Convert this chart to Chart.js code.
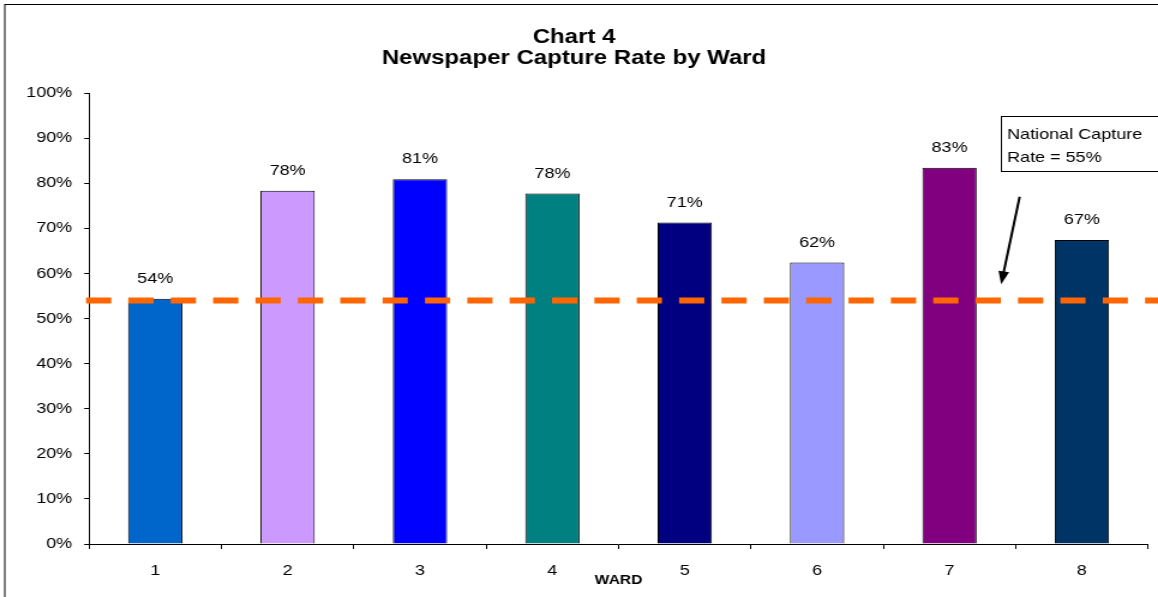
<!DOCTYPE html>
<html>
<head>
<meta charset="utf-8">
<script src="https://cdn.jsdelivr.net/npm/chart.js@4.4.1/dist/chart.umd.min.js"></script>
<style>
  html, body { margin: 0; padding: 0; background: #fff; overflow: hidden; }
  #chart { display: block; }
</style>
</head>
<body>
<!-- the original picture is stretched sideways, so the canvas is drawn narrower and widened with css -->
<canvas id="chart" width="965" height="597" style="width:1158px;height:597px"></canvas>
<script>
// Data
const wards = ["1", "2", "3", "4", "5", "6", "7", "8"];
const captureRates = [54.4, 78.3, 80.9, 77.7, 71.3, 62.4, 83.4, 67.4];
const barColors = ["#0066CC", "#CC99FF", "#0000FF", "#008080", "#000080", "#9999FF", "#800080", "#003366"];
const nationalLine = 54;
const noteLines = ["National Capture", "Rate = 55%"];

// where the note box and its arrow sit, in category index / percent units
const note = { left: 6.39, top: 94.8, bottom: 82.6, arrowFrom: [6.53, 77], arrowTo: [6.39, 57.6] };

const fontFamily = "Arial, 'Liberation Sans', sans-serif";

// white background and the outer frame
const framePlugin = {
  id: "frame",
  beforeDraw(chart) {
    const ctx = chart.ctx;
    ctx.save();
    ctx.fillStyle = "#fff";
    ctx.fillRect(0, 0, chart.width, chart.height);
    ctx.strokeStyle = "#000";
    ctx.lineWidth = 1;
    ctx.strokeRect(4, 4.5, chart.width + 10, chart.height + 10);
    ctx.restore();
  }
};

// dashed national line, value labels, note box + arrow
const extrasPlugin = {
  id: "extras",
  afterDatasetsDraw(chart) {
    const { ctx, chartArea } = chart;
    const xs = chart.scales.x;
    const ys = chart.scales.y;

    // national rate line
    const ly = ys.getPixelForValue(nationalLine);
    ctx.save();
    ctx.strokeStyle = "#FF6600";
    ctx.lineWidth = 6;
    ctx.setLineDash([21, 14.3]);
    ctx.beginPath();
    ctx.moveTo(chartArea.left - 2.5, ly);
    ctx.lineTo(chart.width, ly);
    ctx.stroke();
    ctx.restore();

    // value labels above the bars
    ctx.save();
    ctx.fillStyle = "#000";
    ctx.font = "15px " + fontFamily;
    ctx.textAlign = "center";
    ctx.textBaseline = "middle";
    chart.getDatasetMeta(0).data.forEach((bar, i) => {
      ctx.fillText(Math.round(captureRates[i]) + "%", bar.x, bar.y - 20);
    });
    ctx.restore();

    // note box
    const catW = xs.getPixelForValue(1) - xs.getPixelForValue(0);
    const px = (idx) => xs.getPixelForValue(Math.floor(idx)) + (idx - Math.floor(idx)) * catW;
    const bl = px(note.left);
    const bt = ys.getPixelForValue(note.top);
    const bb = ys.getPixelForValue(note.bottom);
    ctx.save();
    ctx.fillStyle = "#fff";
    ctx.fillRect(bl, bt, chart.width - bl + 5, bb - bt);
    ctx.strokeStyle = "#000";
    ctx.lineWidth = 1;
    ctx.strokeRect(Math.round(bl) + 0.5, Math.round(bt) + 0.5, chart.width - bl + 5, bb - bt);
    ctx.fillStyle = "#000";
    ctx.font = "15px " + fontFamily;
    ctx.textAlign = "left";
    ctx.textBaseline = "middle";
    ctx.fillText(noteLines[0], bl + 5, bt + 18);
    ctx.fillText(noteLines[1], bl + 5, bt + 41);

    // arrow
    const x1 = px(note.arrowFrom[0]), y1 = ys.getPixelForValue(note.arrowFrom[1]);
    const x2 = px(note.arrowTo[0]), y2 = ys.getPixelForValue(note.arrowTo[1]);
    const ang = Math.atan2(y2 - y1, x2 - x1);
    const headLen = 13, headW = 4.5;
    ctx.lineWidth = 2;
    ctx.beginPath();
    ctx.moveTo(x1, y1);
    ctx.lineTo(x2 - Math.cos(ang) * headLen * 0.6, y2 - Math.sin(ang) * headLen * 0.6);
    ctx.stroke();
    ctx.beginPath();
    ctx.moveTo(x2, y2);
    ctx.lineTo(x2 - Math.cos(ang) * headLen - Math.sin(ang) * headW, y2 - Math.sin(ang) * headLen + Math.cos(ang) * headW);
    ctx.lineTo(x2 - Math.cos(ang) * headLen + Math.sin(ang) * headW, y2 - Math.sin(ang) * headLen - Math.cos(ang) * headW);
    ctx.closePath();
    ctx.fill();
    ctx.restore();
  }
};

const myChart = new Chart(document.getElementById("chart"), {
  type: "bar",
  data: {
    labels: wards,
    datasets: [
      {
        label: "Capture rate",
        data: captureRates,
        backgroundColor: barColors,
        borderColor: "#000",
        borderWidth: 1,
        barPercentage: 0.41,
        categoryPercentage: 1
      }
    ]
  },
  options: {
    responsive: false,
    animation: false,
    devicePixelRatio: 1,
    layout: { padding: { left: 0, right: 8.3, top: 0, bottom: 0 } },
    plugins: {
      legend: { display: false },
      tooltip: { enabled: false },
      title: {
        display: true,
        text: ["Chart 4", "Newspaper Capture Rate by Ward"],
        color: "#000",
        font: { family: fontFamily, size: 20, weight: "bold", lineHeight: 1.05 },
        padding: { top: 26.5, bottom: 24.5 }
      }
    },
    scales: {
      x: {
        grid: { display: true, drawOnChartArea: false, drawTicks: true, tickLength: 5, color: "#000", offset: true },
        border: { display: true, color: "#000", width: 1 },
        ticks: { color: "#000", padding: 13, font: { family: fontFamily, size: 15 } },
        title: {
          display: true,
          text: "WARD",
          color: "#000",
          font: { family: fontFamily, size: 13, weight: "bold" },
          padding: { top: 0, bottom: 9 }
        },
        afterFit(scale) {
          scale.height = 53;
        }
      },
      y: {
        min: 0,
        max: 100,
        grid: { display: true, drawOnChartArea: false, drawTicks: true, tickLength: 4, color: "#000" },
        border: { display: true, color: "#000", width: 1 },
        ticks: {
          stepSize: 10,
          color: "#000",
          padding: 10,
          font: { family: fontFamily, size: 15 },
          callback: (v) => v + "%"
        },
        afterFit(scale) {
          scale.width = 74.2;
        }
      }
    }
  },
  plugins: [framePlugin, extrasPlugin]
});
</script>
</body>
</html>
